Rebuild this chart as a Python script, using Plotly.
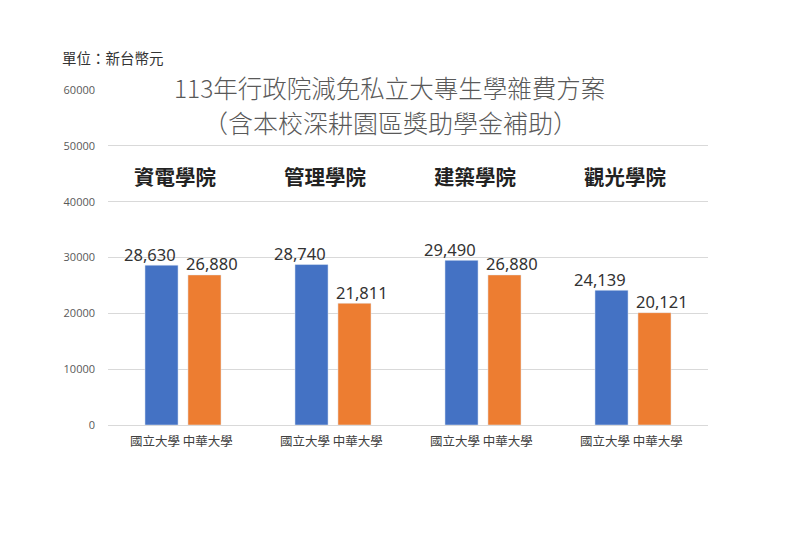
import plotly.graph_objects as go

colleges = ["資電學院", "管理學院", "建築學院", "觀光學院"]
series_names = ["國立大學", "中華大學"]
national = [28630, 28740, 29490, 24139]
chunghua = [26880, 21811, 26880, 20121]
y_ticks = [0, 10000, 20000, 30000, 40000, 50000, 60000]

title1 = "113年行政院減免私立大專生學雜費方案"
title2 = "（含本校深耕園區獎助學金補助）"
unit = "單位：新台幣元"

CJK = "Noto Sans CJK TC"
colors = ["#4472C4", "#ED7D31"]

fig = go.Figure()
for name, vals, c in zip(series_names, [national, chunghua], colors):
    fig.add_trace(go.Bar(x=colleges, y=vals, name=name, marker=dict(color=c)))

# value labels above bars (offset like the original's data labels)
for vals, xs in zip([national, chunghua], [-33, 29]):
    for col, v in zip(colleges, vals):
        fig.add_annotation(x=col, y=v, xref="x", yref="y", xshift=xs, yshift=11,
                           yanchor="middle", text=f"{v:,}", showarrow=False,
                           font=dict(family="Noto Sans", size=16.5, color="#333333"))

# category labels under each bar pair
for col in colleges:
    fig.add_annotation(x=col, y=0, xref="x", yref="y", xshift=-2, yshift=-15, yanchor="middle",
                       text=" ".join(series_names), showarrow=False,
                       font=dict(family=CJK, size=12.5, color="#404040"))

# college headers
for col in colleges:
    fig.add_annotation(x=col, y=0.743, xref="x", yref="paper", xshift=-8, yanchor="middle",
                       text=f"<b>{col}</b>", showarrow=False,
                       font=dict(family=CJK, size=20.5, color="#222222"))

# title lines
fig.add_annotation(x=0.5, xref="paper", y=1.006, yref="paper", xshift=-19, yanchor="middle",
                   text=title1, showarrow=False, bgcolor="white",
                   font=dict(family=CJK, size=24.5, color="#595959", weight=300))
fig.add_annotation(x=0.5, xref="paper", y=0.9045, yref="paper", xshift=-18, yanchor="middle",
                   text=title2, showarrow=False, bgcolor="white",
                   font=dict(family=CJK, size=25, color="#595959", weight=300))

fig.add_annotation(x=-0.08, y=1.0985, xref="paper", yref="paper", text=unit, showarrow=False,
                   xanchor="left", yanchor="middle",
                   font=dict(family=CJK, size=14.5, color="#333333"))

fig.update_layout(
    width=800, height=533,
    margin=dict(l=100, r=100, t=82, b=116),
    paper_bgcolor="white", plot_bgcolor="white",
    barmode="group", bargap=0.427, bargroupgap=0.23,
    showlegend=False,
    xaxis=dict(showticklabels=False, showgrid=False, showline=False, ticks=""),
    yaxis=dict(range=[0, 60000], tickvals=y_ticks, ticktext=[str(v) for v in y_ticks],
               showgrid=True, gridcolor="#d9d9d9", gridwidth=1,
               zeroline=True, zerolinecolor="#d9d9d9", zerolinewidth=1,
               showline=False, ticks="", ticklabelstandoff=12,
               tickfont=dict(family="Open Sans", size=11, color="#595959")),
)

fig.write_html("out.html")
